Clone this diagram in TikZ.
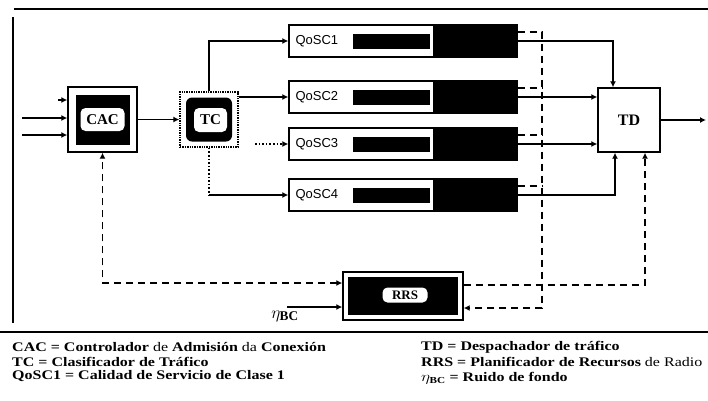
\documentclass[tikz,border=0pt]{standalone}
\usepackage{fontspec}
\setmainfont{Liberation Serif}
\setsansfont{Liberation Sans}
\usetikzlibrary{arrows.meta}

\begin{document}
\begin{tikzpicture}[x=1pt,y=-1pt,>={Latex[length=6pt,width=6pt]},
 shell/.style={draw,line width=1.4pt,fill=white,inner sep=0pt},
 blk/.style={fill=black,inner sep=0pt},
 tag/.style={fill=white,rounded corners=5pt,inner sep=1pt,font=\bfseries\fontsize{15}{15}\selectfont},
 queue/.style={draw,line width=1.4pt,minimum width=228pt,minimum height=32pt,inner sep=0pt},
 ctrl/.style={ultra thick,dash pattern=on 7pt off 5pt},
 legend/.style={anchor=west,inner sep=0pt,font=\bfseries\fontsize{16}{16}\selectfont}]
\useasboundingbox (0,0) rectangle (708,400);
% frame
\draw[line width=1.6pt] (14,9) -- (708,9);
\draw[line width=1.6pt] (13,17) -- (13,323);
\draw[line width=1.6pt] (0,332) -- (708,332);
% blocks
\node[shell,minimum width=69pt,minimum height=65pt] (cac) at (102.5,119.5) {};
\node[blk,minimum width=54pt,minimum height=50pt] (cacin) at (cac) {};
\node[tag,minimum width=44pt,minimum height=23pt] (caclab) at (cac) {CAC};
\node[shell,densely dotted,minimum width=58pt,minimum height=55pt] (tc) at (209,119.5) {};
\node[blk,rounded corners=6pt,minimum width=46pt,minimum height=44pt] (tcin) at (tc) {};
\node[tag,minimum width=33pt,minimum height=24pt] (tclab) at (210.5,120) {TC};
\foreach \i/\y in {1/41,2/97,3/144,4/195}{
 \node[queue] (q\i) at (403,\y) {};
 \node[blk,anchor=east,minimum width=85pt,minimum height=32pt] (s\i) at (q\i.east) {};
 \node[blk,minimum width=77pt,minimum height=15pt] (b\i) at (391,\y) {};
 \node[anchor=west,inner sep=0pt,font=\sffamily\fontsize{13}{13}\selectfont] (l\i) at ([xshift=7pt]q\i.west) {QoSC\i};
}
\node[shell,minimum width=62pt,minimum height=64pt,font=\bfseries\fontsize{16}{16}\selectfont] (td) at (629,120) {TD};
\node[shell,minimum width=120pt,minimum height=48pt] (rrs) at (403,296) {};
\node[blk,minimum width=110pt,minimum height=38pt] (rrsin) at (rrs) {};
\node[tag,minimum width=45pt,minimum height=15pt,font=\bfseries\fontsize{13}{13}\selectfont] (rrslab) at (405,295) {RRS};
\node[font=\fontsize{19}{19}\selectfont] (etalab) at (285,316) {$\eta_{\mathbf{BC}}$};
% free ends
\coordinate (in1) at (58,100);
\coordinate (in2) at (22,118);
\coordinate (in3) at (22,135);
\coordinate (q3in) at (255,144);
\coordinate (out) at (706,120);
\coordinate (bus) at (542,308);
\coordinate (eta) at (287,307);
% data path
\draw[ultra thick,->] (in1) -- (in1 -| cac.west);
\draw[ultra thick,->] (in2) -- (in2 -| cac.west);
\draw[ultra thick,->] (in3) -- (in3 -| cac.west);
\draw[ultra thick,->] (cac) -- (tc);
\draw[ultra thick,->] (tc.north) |- (q1.west);
\draw[ultra thick,->] (tc.north east |- q2.west) -- (q2.west);
\draw[ultra thick,dotted,->] (q3in) -- (q3.west);
\draw[ultra thick,dotted] (tc.south) -- (tc.south |- q4.west);
\draw[ultra thick,->] (tc.south |- q4.west) -- (q4.west);
\draw[ultra thick,->] (q1.east) -| ([xshift=-16pt]td.north);
\draw[ultra thick,->] (q2.east) -- (q2.east -| td.west);
\draw[ultra thick,->] (q3.east) -- (q3.east -| td.west);
\draw[ultra thick,->] (q4.east) -| ([xshift=-14pt]td.south);
\draw[ultra thick,->] (td) -- (out);
% control path
\draw[ctrl,->] ([yshift=9pt]q1.east) -| (bus) -- ([yshift=-12pt]rrs.east);
\foreach \i in {2,3,4}
 \draw[ctrl] ([yshift=9pt]q\i.east) -- ([yshift=9pt]q\i.east -| bus);
\draw[ctrl,->] ([yshift=11pt]rrs.east) -| ([xshift=16pt]td.south);
\draw[ctrl,<->] ([yshift=13pt]rrs.west) -| (cac.south);
\draw[ultra thick,->] (eta) -- (eta -| rrs.west);
% legend
\node[legend] (k1) at (12,347) {\scalebox{1}[0.82]{CAC = Controlador {\mdseries de} Admisión {\mdseries da} Conexión}};
\node[legend] (k2) at (12,361.5) {\scalebox{1}[0.82]{TC = Clasificador de Tráfico}};
\node[legend] (k3) at (12,376) {\scalebox{1}[0.82]{QoSC1 = Calidad de Servicio de Clase 1}};
\node[legend] (k4) at (421,347) {\scalebox{1}[0.82]{TD = Despachador de tráfico}};
\node[legend] (k5) at (421,361.5) {\scalebox{1}[0.82]{RRS = Planificador de Recursos {\mdseries de Radio}}};
\node[legend] (k6) at (421,378) {\scalebox{1}[0.82]{$\eta_{\mathbf{BC}}$ = Ruido de fondo}};
\end{tikzpicture}
\end{document}
